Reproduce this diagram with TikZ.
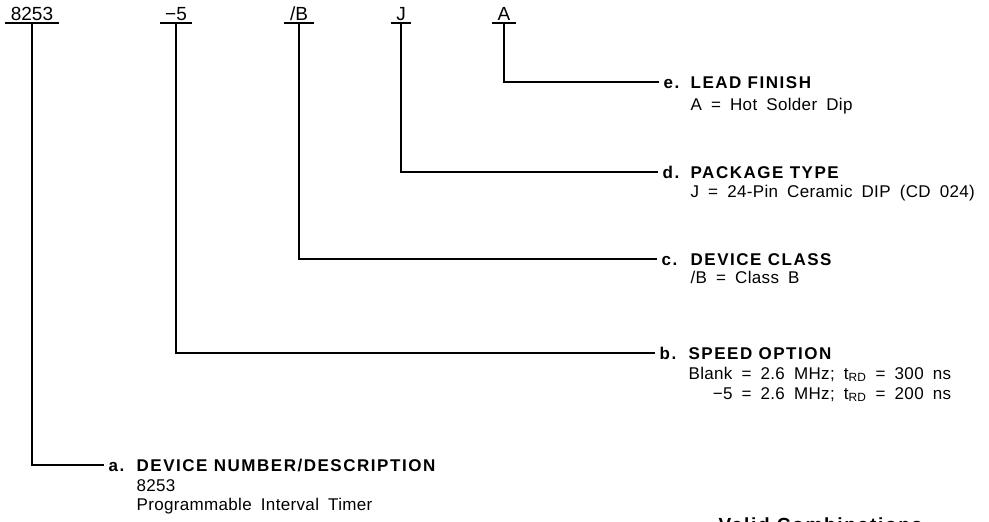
\documentclass[tikz,border=0pt]{standalone}
\usepackage{fontspec}
\setmainfont{Liberation Sans}[LetterSpace=2,WordSpace=1.8]
\newfontfamily\headfont{Liberation Sans}[LetterSpace=9]
\newfontfamily\partfont{Liberation Sans}
\usepackage{tikz}

\begin{document}
\begin{tikzpicture}[x=1pt,y=-1pt,line width=1.2pt,
  part/.style={font=\partfont\fontsize{19}{22}\selectfont,anchor=south,inner xsep=5pt,inner ysep=2pt,text depth=0pt},
  tag/.style={font=\headfont\bfseries\fontsize{17}{20}\selectfont,anchor=base west,inner xsep=4pt,inner ysep=0pt,text height=12.2pt,text depth=0pt},
  item/.style={font=\fontsize{17}{20}\selectfont,anchor=base west,inner sep=0pt}]
\useasboundingbox (0,0) rectangle (989,522);

\node [part] (pnum) at (32,23) {8253};
\node [part] (pspeed) at (176,23) {−5};
\node [part] (pclass) at (299,23) {/B};
\node [part] (ppkg) at (401,23) {J};
\node [part] (plead) at (504,23) {A};
\foreach \p in {pnum,pspeed,pclass,ppkg,plead}
  \draw (\p.south west) -- (\p.south east);

\node [tag] (tage) at (659,88) {e.};
\node [item] (lead) at (690,88) {\begin{tabular}[t]{@{}l@{}}{\headfont\bfseries LEAD FINISH}\\[2pt]
A = Hot Solder Dip\end{tabular}};

\node [tag] (tagd) at (658,178) {d.};
\node [item] (pkg) at (690,178) {\begin{tabular}[t]{@{}l@{}}{\headfont\bfseries PACKAGE TYPE}\\[-1pt]
J = 24-Pin Ceramic DIP (CD 024)\end{tabular}};

\node [tag] (tagc) at (657,265) {c.};
\node [item] (class) at (690,265) {\begin{tabular}[t]{@{}l@{}}{\headfont\bfseries DEVICE CLASS}\\[-2pt]
/B = Class B\end{tabular}};

\node [tag] (tagb) at (655,359) {b.};
\node [item] (speed) at (688,359) {\begin{tabular}[t]{@{}r@{}}\multicolumn{1}{@{}l@{}}{\headfont\bfseries SPEED OPTION}\\
Blank = 2.6 MHz; t\textsubscript{RD} = 300 ns\\
−5 = 2.6 MHz; t\textsubscript{RD} = 200 ns\end{tabular}};

\node [tag] (taga) at (104,471) {a.};
\node [item] (num) at (136,471) {\begin{tabular}[t]{@{}l@{}}{\headfont\bfseries DEVICE NUMBER/DESCRIPTION}\\
8253\\[-1pt]
Programmable Interval Timer\end{tabular}};

\node [item,font=\headfont\bfseries\fontsize{19}{22}\selectfont] (valid) at (718,531) {Valid Combinations};

\draw (plead.south) |- (tage.west);
\draw (ppkg.south) |- (tagd.west);
\draw (pclass.south) |- (tagc.west);
\draw (pspeed.south) |- (tagb.west);
\draw (pnum.south) |- (taga.west);
\end{tikzpicture}
\end{document}
